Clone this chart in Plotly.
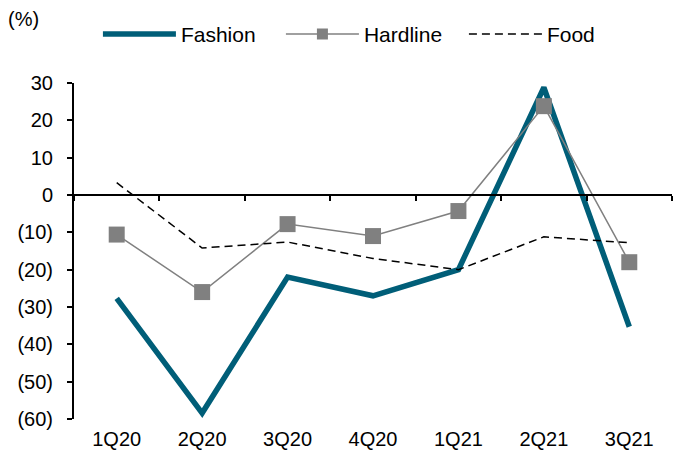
import plotly.graph_objects as go

quarters = ["1Q20", "2Q20", "3Q20", "4Q20", "1Q21", "2Q21", "3Q21"]
fashion = [-27.7, -58.4, -22, -27, -20, 28.8, -35.3]
hardline = [-10.6, -26, -7.8, -11, -4.3, 23.8, -18]
food = [3.3, -14.2, -12.6, -17, -20, -11.2, -12.8]
ytickvals = [30, 20, 10, 0, -10, -20, -30, -40, -50, -60]
yticktext = ["30", "20", "10", "0", "(10)", "(20)", "(30)", "(40)", "(50)", "(60)"]

FONT = "Liberation Sans, Arial, sans-serif"
TEAL = "#005E78"
GREY = "#808080"

fig = go.Figure()
fig.add_trace(go.Scatter(x=quarters, y=fashion, name="Fashion", mode="lines",
                         line=dict(color=TEAL, width=5.5)))
fig.add_trace(go.Scatter(x=quarters, y=hardline, name="Hardline", mode="lines+markers",
                         line=dict(color=GREY, width=1.5), showlegend=False,
                         marker=dict(symbol="square", size=16, color=GREY)))
# legend-only entry for Hardline with a smaller legend marker
fig.add_trace(go.Scatter(x=[None], y=[None], name="Hardline", mode="lines+markers",
                         line=dict(color=GREY, width=1.5), hoverinfo="skip",
                         marker=dict(symbol="square", size=11, color=GREY)))
fig.add_trace(go.Scatter(x=quarters, y=food, name="Food", mode="lines",
                         line=dict(color="#000000", width=1.5, dash="8px,5px")))
# invisible trace to drive the zero-line axis
fig.add_trace(go.Scatter(x=quarters, y=[None]*len(quarters), xaxis="x2",
                         showlegend=False, hoverinfo="skip", mode="lines"))

fig.update_layout(
    width=673, height=462,
    margin=dict(l=74, r=1, t=83, b=43),
    paper_bgcolor="white", plot_bgcolor="white",
    font=dict(family=FONT, size=20, color="#000000"),
    showlegend=True,
    legend=dict(orientation="h", x=0.04, xanchor="left", y=1.145, yanchor="middle",
                font=dict(size=21), itemwidth=73, entrywidth=95,
                entrywidthmode="pixels", bgcolor="rgba(0,0,0,0)",
                traceorder="normal"),
    xaxis=dict(type="category", range=[-0.5, 6.5], showline=False, ticks="",
               showgrid=False, zeroline=False, tickfont=dict(size=20),
               ticklabelstandoff=6),
    xaxis2=dict(type="category", range=[-0.5, 6.5], overlaying="x", anchor="free",
                position=2/3, side="bottom", showline=True, linecolor="#000000",
                linewidth=2, ticks="outside", tickson="boundaries", ticklen=5,
                tickwidth=2, tickcolor="#000000", showticklabels=False,
                showgrid=False, zeroline=False),
    yaxis=dict(range=[-60, 30], tickvals=ytickvals, ticktext=yticktext,
               showline=True, linecolor="#000000", linewidth=2, ticks="outside",
               ticklen=5, tickwidth=2, tickcolor="#000000", showgrid=False,
               zeroline=False, ticklabelstandoff=10, tickfont=dict(size=20)),
    annotations=[dict(text="(%)", xref="paper", yref="paper", x=-0.113, y=1.19,
                      xanchor="left", yanchor="middle", showarrow=False,
                      font=dict(size=20))],
)

fig.write_html("out.html")
